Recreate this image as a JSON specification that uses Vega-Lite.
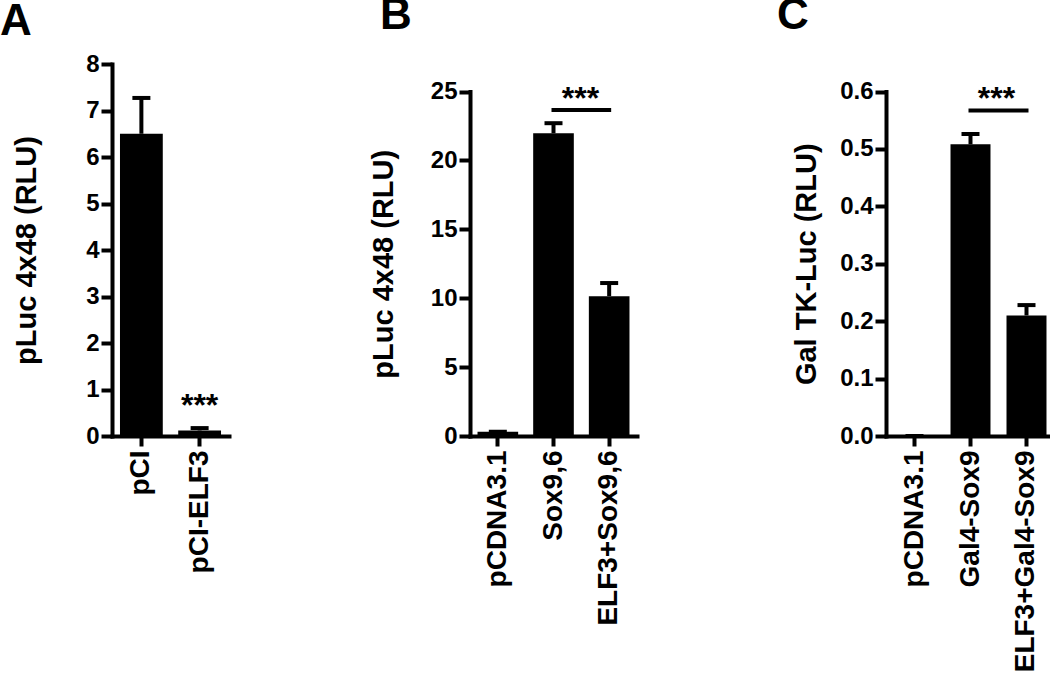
{
  "$schema": "https://vega.github.io/schema/vega-lite/v6.json",
  "padding": {"left": 0, "top": -6, "right": 0, "bottom": 0},
  "spacing": 140,
  "config": {
    "view": {"stroke": null},
    "font": "Liberation Sans",
    "axis": {"domainColor": "black", "domainWidth": 4, "domainCap": "square", "tickColor": "black", "tickWidth": 4, "labelColor": "black", "labelFontWeight": "bold", "titleColor": "black", "titleFontWeight": "bold", "grid": false, "labelFont": "Liberation Sans", "titleFont": "Liberation Sans"},
    "axisX": {"labelAngle": -90, "labelFontSize": 28, "tickSize": 10, "labelPadding": 4, "labelLimit": 400},
    "axisY": {"labelFontSize": 24, "tickSize": 11, "labelPadding": 2, "titleFontSize": 29, "labelFlush": false, "labelOverlap": false}
  },
  "hconcat": [
    {
      "width": 117, "height": 372,
      "title": {"text": "A", "anchor": "start", "frame": "group", "fontSize": 44, "fontWeight": "bold", "color": "black", "dx": -112, "offset": 8},
      "data": {"values": [
        {"g": "pCI", "v": 6.5, "hi": 7.27},
        {"g": "pCI-ELF3", "v": 0.12, "hi": 0.17}
      ]},
      "layer": [
        {"mark": {"type": "bar", "color": "black"},
         "encoding": {
           "x": {"field": "g", "type": "nominal", "title": null, "scale": {"domain": ["pCI", "pCI-ELF3"], "paddingInner": 0.265, "paddingOuter": 0.137}},
           "y": {"field": "v", "type": "quantitative", "title": "pLuc 4x48 (RLU)", "scale": {"domain": [0, 8], "nice": false}, "axis": {"values": [0, 1, 2, 3, 4, 5, 6, 7, 8], "titlePadding": 44}}
         }},
        {"mark": {"type": "rule", "color": "black", "strokeWidth": 4},
         "encoding": {"x": {"field": "g", "type": "nominal"}, "y": {"field": "v", "type": "quantitative"}, "y2": {"field": "hi"}}},
        {"mark": {"type": "tick", "color": "black", "thickness": 4, "size": 18, "opacity": 1},
         "encoding": {"x": {"field": "g", "type": "nominal"}, "y": {"field": "hi", "type": "quantitative"}}},
        {"data": {"values": [{"g": "pCI-ELF3", "y": 0.43, "t": "***"}]},
         "mark": {"type": "text", "fontSize": 32, "fontWeight": "bold", "color": "black", "baseline": "alphabetic"},
         "encoding": {"x": {"field": "g", "type": "nominal"}, "y": {"field": "y", "type": "quantitative"}, "text": {"field": "t"}}}
      ]
    },
    {
      "width": 167, "height": 372,
      "title": {"text": "B", "anchor": "start", "frame": "group", "fontSize": 44, "fontWeight": "bold", "color": "black", "dx": -90, "offset": 26},
      "data": {"values": [
        {"g": "pCDNA3.1", "v": 0.3, "hi": 0.3},
        {"g": "Sox9,6", "v": 21.97, "hi": 22.7},
        {"g": "ELF3+Sox9,6", "v": 10.15, "hi": 11.1}
      ]},
      "layer": [
        {"mark": {"type": "bar", "color": "black"},
         "encoding": {
           "x": {"field": "g", "type": "nominal", "title": null, "scale": {"domain": ["pCDNA3.1", "Sox9,6", "ELF3+Sox9,6"], "paddingInner": 0.27, "paddingOuter": 0.135}},
           "y": {"field": "v", "type": "quantitative", "title": "pLuc 4x48 (RLU)", "scale": {"domain": [0, 25], "nice": false, "range": [372, 27.5]}, "axis": {"values": [0, 5, 10, 15, 20, 25], "titlePadding": 32}}
         }},
        {"mark": {"type": "rule", "color": "black", "strokeWidth": 4},
         "encoding": {"x": {"field": "g", "type": "nominal"}, "y": {"field": "v", "type": "quantitative"}, "y2": {"field": "hi"}}},
        {"mark": {"type": "tick", "color": "black", "thickness": 4, "size": 18, "opacity": 1},
         "encoding": {"x": {"field": "g", "type": "nominal"}, "y": {"field": "hi", "type": "quantitative"}}},
        {"data": {"values": [{"a": "Sox9,6", "b": "ELF3+Sox9,6", "y": 23.66}]},
         "mark": {"type": "rule", "color": "black", "strokeWidth": 4, "strokeCap": "square"},
         "encoding": {"x": {"field": "a", "type": "nominal"}, "x2": {"field": "b"}, "y": {"field": "y", "type": "quantitative"}}},
        {"data": {"values": [{"g": "Sox9,6", "y": 23.7, "t": "***"}]},
         "mark": {"type": "text", "fontSize": 32, "fontWeight": "bold", "color": "black", "baseline": "alphabetic", "dx": 27},
         "encoding": {"x": {"field": "g", "type": "nominal"}, "y": {"field": "y", "type": "quantitative"}, "text": {"field": "t"}}}
      ]
    },
    {
      "width": 169, "height": 372,
      "title": {"text": "C", "anchor": "start", "frame": "group", "fontSize": 44, "fontWeight": "bold", "color": "black", "dx": -109, "offset": 26},
      "data": {"values": [
        {"g": "pCDNA3.1", "v": 0, "hi": 0},
        {"g": "Gal4-Sox9", "v": 0.508, "hi": 0.526},
        {"g": "ELF3+Gal4-Sox9", "v": 0.21, "hi": 0.228}
      ]},
      "layer": [
        {"mark": {"type": "bar", "color": "black"},
         "encoding": {
           "x": {"field": "g", "type": "nominal", "title": null, "scale": {"domain": ["pCDNA3.1", "Gal4-Sox9", "ELF3+Gal4-Sox9"], "paddingInner": 0.286, "paddingOuter": 0.152}},
           "y": {"field": "v", "type": "quantitative", "title": "Gal TK-Luc (RLU)", "scale": {"domain": [0, 0.6], "nice": false, "range": [372, 27.5]}, "axis": {"values": [0, 0.1, 0.2, 0.3, 0.4, 0.5, 0.6], "format": ".1f", "titlePadding": 18}}
         }},
        {"mark": {"type": "rule", "color": "black", "strokeWidth": 4},
         "encoding": {"x": {"field": "g", "type": "nominal"}, "y": {"field": "v", "type": "quantitative"}, "y2": {"field": "hi"}}},
        {"mark": {"type": "tick", "color": "black", "thickness": 4, "size": 18, "opacity": 1},
         "encoding": {"x": {"field": "g", "type": "nominal"}, "y": {"field": "hi", "type": "quantitative"}}},
        {"data": {"values": [{"a": "Gal4-Sox9", "b": "ELF3+Gal4-Sox9", "y": 0.567}]},
         "mark": {"type": "rule", "color": "black", "strokeWidth": 4, "strokeCap": "square"},
         "encoding": {"x": {"field": "a", "type": "nominal"}, "x2": {"field": "b"}, "y": {"field": "y", "type": "quantitative"}}},
        {"data": {"values": [{"g": "Gal4-Sox9", "y": 0.569, "t": "***"}]},
         "mark": {"type": "text", "fontSize": 32, "fontWeight": "bold", "color": "black", "baseline": "alphabetic", "dx": 26},
         "encoding": {"x": {"field": "g", "type": "nominal"}, "y": {"field": "y", "type": "quantitative"}, "text": {"field": "t"}}}
      ]
    }
  ]
}
